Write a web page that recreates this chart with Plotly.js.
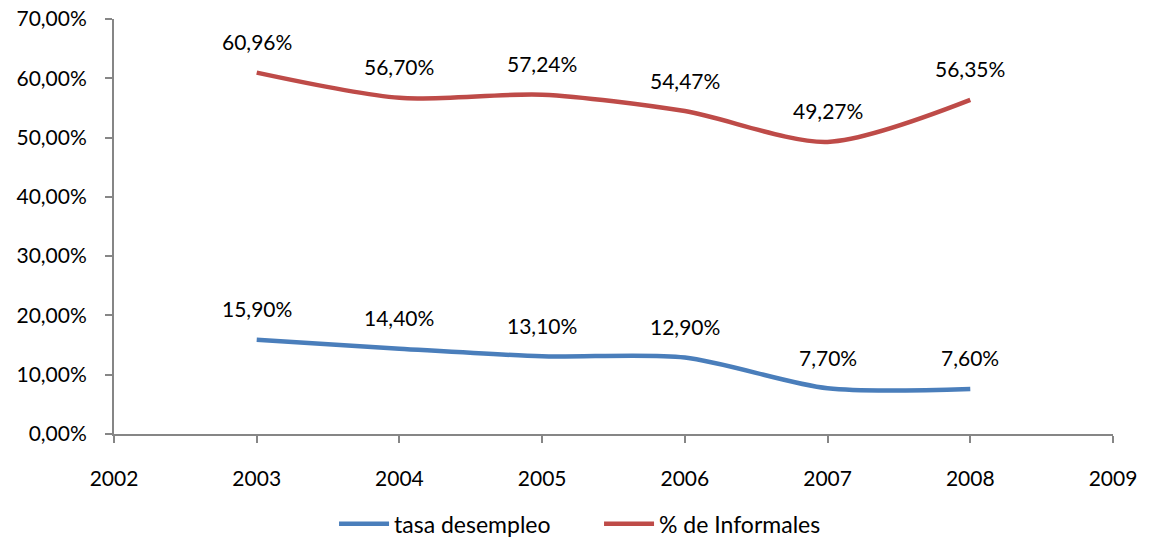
<!DOCTYPE html>
<html>
<head>
<meta charset="utf-8">
<script src="https://cdn.plot.ly/plotly-3.0.1.min.js"></script>
<style>html,body{margin:0;padding:0;background:#fff;}#chart{width:1152px;height:540px;}</style>
</head>
<body>
<div id="chart"></div>
<script>
var years = [2003, 2004, 2005, 2006, 2007, 2008];
var desempleo = [0.159, 0.144, 0.131, 0.129, 0.077, 0.076];
var informales = [0.6096, 0.5670, 0.5724, 0.5447, 0.4927, 0.5635];
var seriesNames = ['tasa desempleo', '% de Informales'];
var colors = ['#4A7EBB', '#BE4B48'];

function fmt(v){ return (v*100).toFixed(2).replace('.', ',') + '%'; }

var traces = [
  {x: years, y: desempleo, name: seriesNames[0], mode: 'lines', line: {color: colors[0], width: 4.5, shape: 'spline', smoothing: 0.8}},
  {x: years, y: informales, name: seriesNames[1], mode: 'lines', line: {color: colors[1], width: 4.5, shape: 'spline', smoothing: 0.8}}
];

var FONT = 'Lato, "Open Sans", sans-serif';
var annotations = [];
[desempleo, informales].forEach(function(s){
  s.forEach(function(v, i){
    annotations.push({x: years[i], y: v, xref: 'x', yref: 'y', text: fmt(v), showarrow: false,
      yshift: 31, font: {family: FONT, size: 21, color: '#000'}});
  });
});

var layout = {
  width: 1152, height: 540,
  margin: {l: 114, r: 39, t: 19, b: 106},
  paper_bgcolor: '#fff', plot_bgcolor: '#fff',
  separators: ',.',
  font: {family: FONT, size: 21, color: '#000'},
  xaxis: {range: [2002, 2009], dtick: 1, tick0: 2002, showgrid: false, zeroline: false, automargin: false,
    showline: true, linecolor: '#868686', linewidth: 2, ticks: 'outside', ticklen: 7, tickwidth: 2, tickcolor: '#868686',
    ticklabelstandoff: 18, tickfont: {size: 21}},
  yaxis: {range: [0, 0.7], dtick: 0.1, tickformat: '.2%', showgrid: false, zeroline: false, automargin: false,
    showline: true, linecolor: '#868686', linewidth: 2, ticks: 'outside', ticklen: 7, tickwidth: 2, tickcolor: '#868686',
    ticklabelstandoff: 14, tickfont: {size: 21}},
  showlegend: true,
  legend: {orientation: 'h', x: 0.52, xanchor: 'center', xref: 'container', yref: 'container', y: 0.03, yanchor: 'middle',
    font: {size: 23}, itemwidth: 50, entrywidth: 200},
  annotations: annotations
};

Plotly.newPlot('chart', traces, layout, {displayModeBar: false, staticPlot: true});
</script>
</body>
</html>
